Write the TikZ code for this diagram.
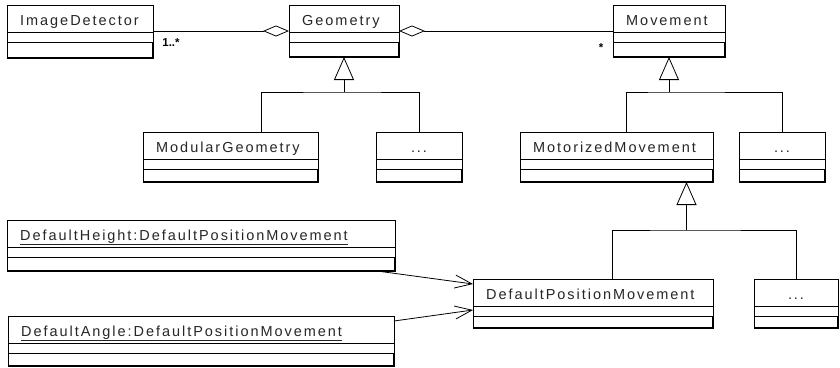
\documentclass[tikz,border=0pt]{standalone}
\usepackage{fontspec}
\setmainfont{Liberation Sans}
\newfontfamily\classfont[LetterSpace=13.5]{Liberation Sans}
\usetikzlibrary{arrows.meta,calc}

\tikzset{
  classbox/.style={draw, line width=0.8pt, inner sep=0pt, outer sep=0pt},
  compline/.style={line width=0.8pt},
  shadowline/.style={line width=1.8pt},
  classname/.style={inner sep=0pt, font=\classfont\fontsize{14.5}{17}\selectfont, text=black!85},
  mult/.style={inner sep=0pt, font=\bfseries\fontsize{11.5}{13}\selectfont},
  conn/.style={line width=0.8pt},
  aggr/.style={conn, {Diamond[open,length=26pt,width=11pt,line width=0.8pt]}-},
  gen/.style={conn, -{Triangle[open,length=23pt,width=20pt,line width=0.8pt]}},
  dep/.style={conn, -{Straight Barb[length=17pt,width=13pt,line width=0.8pt]}},
}

% class box frame: name, x1, y1, x2, y2
\newcommand\umlframe[5]{%
  \node[classbox, name=#1, anchor=north west,
        minimum width={(#4-#2)*1pt}, minimum height={(#5-#3)*1pt}] at (#2,#3) {};
  \draw[compline] ([yshift=-27pt]#1.north west) -- ([yshift=-27pt]#1.north east);
  \draw[compline] ([yshift=-37pt]#1.north west) -- ([yshift=-37pt]#1.north east);
  \draw[shadowline] ([yshift=-37pt]#1.north east) -- (#1.south east) -- (#1.south west);
}
% class with left-aligned title
\newcommand\umlclass[6]{%
  \umlframe{#1}{#2}{#3}{#4}{#5}
  \node[classname, name=#1-t, anchor=base west] at ([xshift=13pt,yshift=-20pt]#1.north west) {#6};
}
% class with centred title
\newcommand\umlclassc[6]{%
  \umlframe{#1}{#2}{#3}{#4}{#5}
  \node[classname, name=#1-t, anchor=base] at ([yshift=-20pt]#1.north) {#6};
}

\begin{document}
\begin{tikzpicture}[x=1pt,y=-1pt]
\useasboundingbox (0,0) rectangle (840,367);

\umlclass{imgdet}{7}{5}{153}{58}{ImageDetector}
\umlclass{geo}{289}{5}{399}{57}{Geometry}
\umlclass{mov}{613}{5}{725}{57}{Movement}
\umlclass{modgeo}{143}{132}{318}{182}{ModularGeometry}
\umlclassc{gdots}{376}{132}{462}{182}{...}
\umlclass{motmov}{520}{132}{713}{182}{MotorizedMovement}
\umlclassc{mdots}{739}{132}{825}{182}{...}
\umlclass{dh}{7}{220}{395}{271}{\underline{DefaultHeight:DefaultPositionMovement}}
\umlclass{dpm}{473}{279}{713}{328}{DefaultPositionMovement}
\umlclassc{ddots}{754}{279}{838}{328}{...}
\umlclass{da}{8}{316}{394}{366}{\underline{DefaultAngle:DefaultPositionMovement}}

% aggregations
\draw[aggr] ([yshift=-26pt]geo.north west) -- ([yshift=-26pt]geo.north west -| imgdet.east);
\draw[aggr] ([yshift=-26pt]geo.north east) -- ([yshift=-26pt]geo.north east -| mov.west);
\node[mult, name=m1] at (171,43) {1..*};
\node[mult, name=m2] at (601,48) {*};

% generalizations
\coordinate (gbar) at ($(geo.south)+(0,35)$);
\draw[gen] (gbar) -- (geo.south);
\draw[conn] ([xshift=30.5pt]modgeo.north) |- (gbar) -| (gdots.north);

\coordinate (mbar) at ($(mov.south)+(0,35)$);
\draw[gen] (mbar) -- (mov.south);
\draw[conn] ([xshift=10pt]motmov.north) |- (mbar) -| (mdots.north);

\coordinate (dbar) at ($(motmov.south)+(70,48)$);
\draw[gen] (dbar) -- ([xshift=70pt]motmov.south);
\draw[conn] ([xshift=19pt]dpm.north) |- (dbar) -| (ddots.north);

% dependencies
\draw[dep] ([xshift=-18pt]dh.south east) -- ([yshift=-5pt]dpm.north west);
\draw[dep] ([yshift=-5pt]da.north east) -- ([yshift=-6.5pt]dpm.west);
\end{tikzpicture}
\end{document}
